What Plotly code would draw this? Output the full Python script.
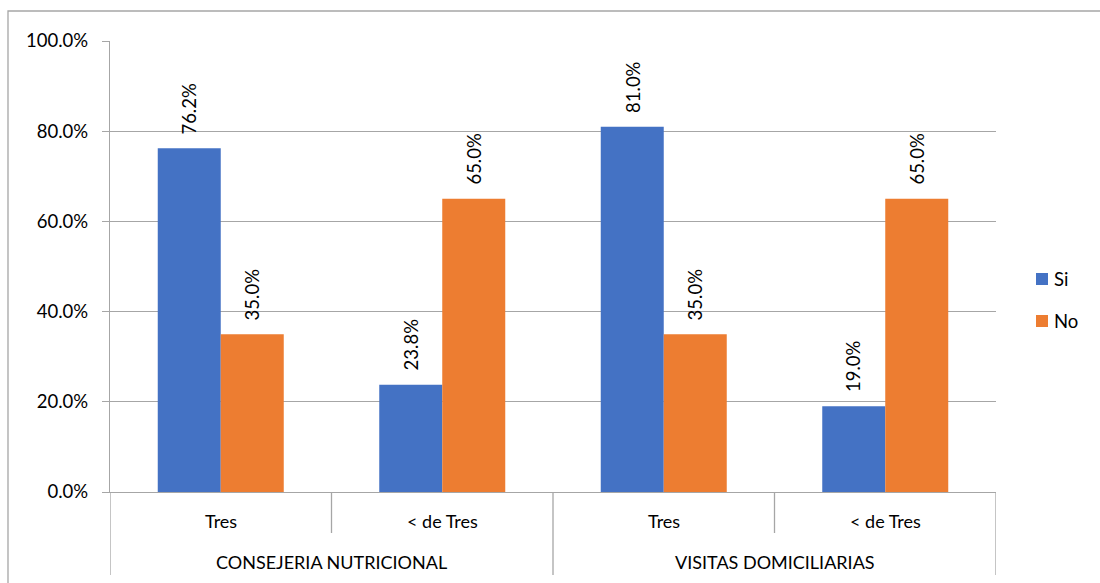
import plotly.graph_objects as go

# Data
groups = ["CONSEJERIA NUTRICIONAL", "VISITAS DOMICILIARIAS"]
subcats = ["Tres", "< de Tres"]
series_names = ["Si", "No"]
si_values = [0.762, 0.238, 0.810, 0.190]
no_values = [0.350, 0.650, 0.350, 0.650]
y_ticks = [0.0, 0.2, 0.4, 0.6, 0.8, 1.0]

colors = ["#4472C4", "#ED7D31"]
line_gray = "#A6A6A6"
font_family = "Lato, Carlito, Calibri, sans-serif"
fsize = 18.5
cat_size = 18

W, H = 1100, 583
L, R, T, B = 110, 996, 41, 492  # plot area in pixels


def px_x(p):
    return (p - L) / (R - L)


def px_y(p):
    return (B - p) / (B - T)


n_cat = len(groups) * len(subcats)
xpos = list(range(n_cat))
sub_labels = [s for _ in groups for s in subcats]

fig = go.Figure()
for name, vals, col in zip(series_names, [si_values, no_values], colors):
    fig.add_trace(go.Bar(
        x=xpos, y=vals, name=name, marker=dict(color=col, line=dict(width=0)),
        showlegend=False, hoverinfo="skip",
    ))

bargap = 1 - 126 / 221.5
bar_px = (R - L) / n_cat * (1 - bargap) / 2

annotations = []
# Rotated value labels above each bar
for k, vals in enumerate([si_values, no_values]):
    shift = (-0.5 if k == 0 else 0.5) * bar_px
    for i, v in enumerate(vals):
        annotations.append(dict(
            x=xpos[i], y=v, xref="x", yref="y", text=f"{v * 100:.1f}%",
            textangle=-90, showarrow=False, xanchor="center", yanchor="bottom",
            xshift=shift, yshift=12,
            font=dict(family=font_family, size=fsize, color="#000000"),
        ))

# Category labels (two levels)
for i, s in enumerate(sub_labels):
    annotations.append(dict(
        x=xpos[i], y=px_y(521), xref="x", yref="paper", text=s, showarrow=False,
        xanchor="center", yanchor="middle",
        font=dict(family=font_family, size=cat_size, color="#000000"),
    ))
for g, name in enumerate(groups):
    center = g * len(subcats) + (len(subcats) - 1) / 2
    annotations.append(dict(
        x=center, y=px_y(562), xref="x", yref="paper", text=name, showarrow=False,
        xanchor="center", yanchor="middle",
        font=dict(family=font_family, size=cat_size, color="#000000"),
    ))

# Legend drawn by hand
legend_y = [279, 321]
shapes = []
for name, col, yc in zip(series_names, colors, legend_y):
    shapes.append(dict(
        type="rect", xref="paper", yref="paper",
        x0=px_x(1036), x1=px_x(1048), y0=px_y(yc + 6), y1=px_y(yc - 6),
        fillcolor=col, line=dict(width=0),
    ))
    annotations.append(dict(
        x=px_x(1052), y=px_y(yc), xref="paper", yref="paper", text=name,
        showarrow=False, xanchor="left", yanchor="middle",
        font=dict(family=font_family, size=fsize, color="#000000"),
    ))

# Category separators below the axis
for b in range(n_cat + 1):
    xb = b - 0.5
    long_line = b % len(subcats) == 0
    shapes.append(dict(
        type="line", xref="x", yref="paper", x0=xb, x1=xb,
        y0=0, y1=px_y(575 if long_line else 533),
        line=dict(color=line_gray, width=1.3),
    ))

# Chart area border
shapes.append(dict(
    type="rect", xref="paper", yref="paper",
    x0=px_x(8), x1=px_x(1110), y0=px_y(11), y1=px_y(600),
    line=dict(color=line_gray, width=1.3), fillcolor="rgba(0,0,0,0)", layer="below",
))

fig.update_layout(
    width=W, height=H,
    margin=dict(l=L, r=W - R, t=T, b=H - B, pad=0),
    paper_bgcolor="white", plot_bgcolor="white",
    barmode="group", bargap=bargap, bargroupgap=0,
    showlegend=False,
    font=dict(family=font_family, size=fsize, color="#000000"),
    xaxis=dict(
        range=[-0.5, n_cat - 0.5], showticklabels=False, showgrid=False,
        zeroline=False, showline=True, linecolor=line_gray, linewidth=1.3,
        ticks="", fixedrange=True,
    ),
    yaxis=dict(
        range=[0, 1], tickvals=y_ticks, tickformat=".1%", showgrid=True,
        gridcolor=line_gray, gridwidth=1.3, zeroline=False, showline=True,
        linecolor=line_gray, linewidth=1.3, ticks="outside", ticklen=7,
        tickcolor=line_gray, tickwidth=1.3, ticklabelstandoff=10,
        tickfont=dict(family=font_family, size=fsize, color="#000000"),
        fixedrange=True,
    ),
    annotations=annotations,
    shapes=shapes,
)

fig.write_html("out.html")
